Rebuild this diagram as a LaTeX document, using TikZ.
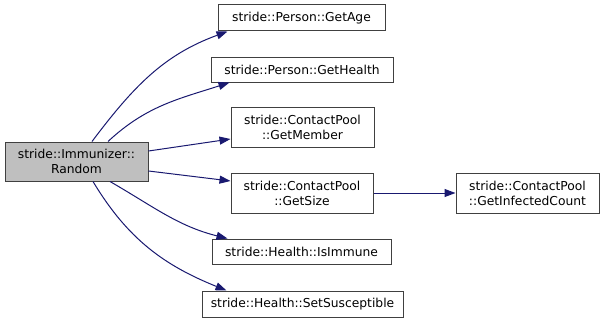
\documentclass[tikz,border=0pt]{standalone}
\usepackage{fontspec}
\setmainfont{DejaVu Sans}
\usetikzlibrary{arrows.meta}
\definecolor{edgeblue}{HTML}{191970}
\definecolor{boxgrey}{HTML}{BFBFBF}
\definecolor{boxline}{HTML}{404040}
\begin{document}
\begin{tikzpicture}[x=1pt,y=-1pt,
  fn/.style={draw=boxline, line width=1pt, fill=white, inner sep=0pt,
    align=center, font=\fontsize{12.3}{15}\selectfont},
  callee/.style={fn},
  caller/.style={fn, fill=boxgrey},
  edge/.style={draw=edgeblue, line width=1pt,
    -{Triangle[length=11pt,width=8pt]}}]
\useasboundingbox (0,0) rectangle (604,321);

% caller
\node[caller, minimum width=143pt, minimum height=39pt] (r) at (76.5,161.5)
  {stride::Immunizer::\\Random};

% callees
\node[callee, minimum width=167pt, minimum height=26pt] (a) at (301.5,18) {stride::Person::GetAge};
\node[callee, minimum width=182pt, minimum height=25pt] (b) at (302,69.5) {stride::Person::GetHealth};
\node[callee, minimum width=143pt, minimum height=40pt] (c) at (302.5,127) {stride::ContactPool\\::GetMember};
\node[callee, minimum width=142pt, minimum height=40pt] (d) at (302,193) {stride::ContactPool\\::GetSize};
\node[callee, minimum width=179pt, minimum height=25pt] (e) at (301.5,251.5) {stride::Health::IsImmune};
\node[callee, minimum width=201pt, minimum height=26pt] (f) at (302.5,304) {stride::Health::SetSusceptible};
\node[callee, minimum width=143pt, minimum height=40pt] (g) at (527.5,193) {stride::ContactPool\\::GetInfectedCount};

% calls
\draw[edge] ([xshift=15.5pt]r.north) to[out=53,in=200] ([xshift=10pt]a.south west);
\draw[edge] ([xshift=31.5pt]r.north) to[out=43,in=198] ([xshift=19pt]b.south west);
\draw[edge] ([yshift=10.5pt]r.east) -- ([yshift=-12pt]c.west);
\draw[edge] ([yshift=-9.5pt]r.east) -- ([yshift=12pt]d.west);
\draw[edge] ([xshift=33.5pt]r.south) to[out=-30,in=166] ([xshift=16pt]e.north west);
\draw[edge] ([xshift=16.5pt]r.south) to[out=-59,in=158] ([xshift=25pt]f.north west);
\draw[edge] (d) -- (g);
\end{tikzpicture}
\end{document}
